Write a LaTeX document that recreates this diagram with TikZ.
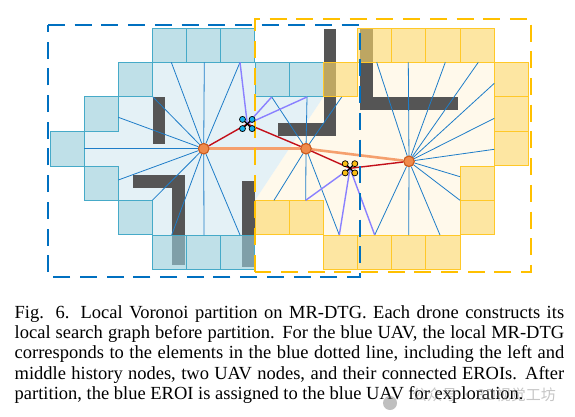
\documentclass[tikz,border=0pt]{standalone}
\usepackage{fontspec}
\usetikzlibrary{calc}
\setmainfont{Liberation Serif}
\newfontfamily\cjkwm{Noto Sans CJK SC}
\definecolor{bluecell}{RGB}{153,205,219}
\definecolor{bluecellline}{RGB}{70,170,200}
\definecolor{yelcell}{RGB}{253,216,106}
\definecolor{yelline}{RGB}{255,200,40}
\definecolor{bluelight}{RGB}{228,241,246}
\definecolor{yellight}{RGB}{255,249,235}
\definecolor{obst}{RGB}{85,85,85}
\definecolor{spoke}{RGB}{30,125,200}
\definecolor{pathred}{RGB}{195,15,25}
\definecolor{pathorange}{RGB}{245,160,110}
\definecolor{purp}{RGB}{138,128,255}
\definecolor{dashblue}{RGB}{0,112,192}
\definecolor{dashyel}{RGB}{255,192,0}
\definecolor{nodefill}{RGB}{240,138,75}
\definecolor{nodeline}{RGB}{200,90,30}
\definecolor{rotorblue}{RGB}{20,175,235}
\definecolor{rotoryel}{RGB}{250,190,20}
\tikzset{
  bcell/.style={fill=bluecell,fill opacity=.62,draw=bluecellline,line width=1pt},
  ycell/.style={fill=yelcell,fill opacity=.62,draw=yelline,line width=1pt},
  obstacle/.style={fill=obst,draw=none},
  spokeline/.style={draw=spoke,line width=.8pt},
  purpline/.style={draw=purp,line width=1.4pt},
  redline/.style={draw=pathred,line width=1.4pt},
  orangeline/.style={draw=pathorange,line width=2.6pt},
  histnode/.style={circle,fill=nodefill,draw=nodeline,line width=1pt,minimum size=10.5pt,inner sep=0pt},
  rotor/.style={circle,draw=black,line width=.7pt,minimum size=6pt,inner sep=0pt},
  dashframe/.style={line width=2.2pt,dash pattern=on 17pt off 9.7pt}
}
\begin{document}
\begin{tikzpicture}[x=1pt,y=-1pt]
\useasboundingbox (0,0) rectangle (575,417);
\fill[white] (0,0) rectangle (575,417);
% light regions
\fill[yellight] (357.7,62.3)--(494.3,62.3)--(494.3,166)--(460,166)--(460,235)--(323.3,235)--(255,235)--(255,200.3)--(323.3,97)--(357.7,97)--cycle;
\fill[bluelight] (152.3,62.3)--(255,62.3)--(255,97)--(323.3,97)--(255,200.3)--(255,235)--(152.3,235)--(152.3,200.3)--(118.3,200.3)--(118.3,166)--(84.3,166)--(84.3,131.7)--(118.3,131.7)--(118.3,97)--(152.3,97)--cycle;
% obstacles
\fill[obstacle] (153,97) rectangle (165,144);
\fill[obstacle] (133,175) rectangle (184,188);
\fill[obstacle] (172,175) rectangle (185,265);
\fill[obstacle] (242,181) rectangle (255,266.5);
\fill[obstacle] (324,29) rectangle (336,136);
\fill[obstacle] (278,123.3) rectangle (336,136);
\fill[obstacle] (360,29) rectangle (373,110);
\fill[obstacle] (360,97.3) rectangle (458,110);
% blue cells
\foreach \x/\y in {152.3/28.3,186.5/28.3,220.8/28.3,118.3/62.3,84.3/96.7,50.3/131.7,84.3/166,118.3/200.3,152.3/235,186.5/235,220.8/235,255/62.3,289.2/62.3}
  \draw[bcell] (\x,\y) rectangle ++(34.1,34.4);
% yellow cells
\foreach \x/\y in {357.7/28.3,391.7/28.3,425.8/28.3,460/28.3,323.3/62.3,494.3/62.3,494.3/96.9,494.3/131.5,460/166,460/200.4,255/200.4,289.2/200.4,323.3/235,357.7/235,391.7/235,425.8/235}
  \draw[ycell] (\x,\y) rectangle ++(34.2,34.4);
% graph nodes and targets
\node[histnode] (n1) at (203.7,148.7) {};
\node[histnode] (n2) at (306,148.7) {};
\node[histnode] (n3) at (409,161.3) {};
\coordinate (ub) at (247.3,124);
\coordinate (uy) at (350,168.3);
\foreach \name/\x/\y in {a/171.3/62.3,b/204.3/62.3,c/240/62.3,d/153/97,e/118.3/117.3,f/84.3/148.7,g/118.3/180,h/152.3/200.3,i/171.7/235,j/204/235,k/240/235}
  {\coordinate (t\name) at (\x,\y); \draw[spokeline] (n1) -- (t\name);}
\foreach \name/\x/\y in {a/271.7/97,b/307/97,c/341.7/97,d/274/200.3,e/305.7/200.3,f/339.3/235}
  {\coordinate (m\name) at (\x,\y); \draw[spokeline] (n2) -- (m\name);}
\foreach \name/\x/\y in {a/376.7/62.3,b/408.3/62.3,c/445.3/62.3,d/478.3/62.3,e/494.3/83.3,f/494.3/118.3,g/494.3/149.3,h/460/176.7,i/460/200.3,j/440/235,k/408.7/235,l/374.7/235}
  {\coordinate (r\name) at (\x,\y); \draw[spokeline] (n3) -- (r\name);}
% purple links
\draw[purpline] (ub) -- (tc);
\draw[purpline] (ub) -- (ma);
\draw[purpline] (ub) -- (mb);
\draw[purpline] (uy) -- (me);
\draw[purpline] (uy) -- (mf);
\draw[purpline] (uy) -- (rl);
% paths
\draw[orangeline] (n1) -- (n2);
\draw[orangeline] (n2) -- (n3);
\draw[redline] (n1) -- (ub);
\draw[redline] (ub) -- (n2);
\draw[redline] (n2) -- (uy);
\draw[redline] (uy) -- (n3);
\node[histnode] at (n1) {};
\node[histnode] at (n2) {};
\node[histnode] at (n3) {};
% frames
\draw[dashframe,draw=dashyel] (255,271.7)--(255,19.3)--(531.3,19.3)--(531.3,271.7)--cycle;
\draw[dashframe,draw=dashblue] (48,24.7)--(360.3,24.7)--(360.3,276.7)--(48,276.7)--cycle;
% UAVs
\foreach \u/\c in {ub/rotorblue,uy/rotoryel}{
  \draw[black,line width=1.2pt] ($(\u)+(-5,-5)$) -- ($(\u)+(5,5)$);
  \draw[black,line width=1.2pt] ($(\u)+(5,-5)$) -- ($(\u)+(-5,5)$);
  \foreach \dx/\dy in {-4.8/-4.6,4.8/-4.6,-4.8/4.6,4.8/4.6}
    \node[rotor,fill=\c] at ($(\u)+(\dx,\dy)$) {};
}
% caption
\node[anchor=north west,inner sep=0pt,text width=549.5pt,align=justify,font=\fontsize{18.5}{20.2}\selectfont] (cap) at (14.5,305.5) {Fig. 6.\hspace{.6em}Local Voronoi partition on MR-DTG. Each drone constructs its\linebreak local search graph before partition. For the blue UAV, the local MR-DTG\linebreak corresponds to the elements in the blue dotted line, including the left and\linebreak middle history nodes, two UAV nodes, and their connected EROIs. After\linebreak partition, the blue EROI is assigned to the blue UAV for exploration.\par};
% watermark
\fill[gray,opacity=.5] (390,403) circle (7);
\node[anchor=west,inner sep=0pt,text=gray,text opacity=.45,font=\cjkwm\fontsize{15}{16}\selectfont] (wm) at (412,395) {公众号\,·\,3D视觉工坊};
\end{tikzpicture}
\end{document}
